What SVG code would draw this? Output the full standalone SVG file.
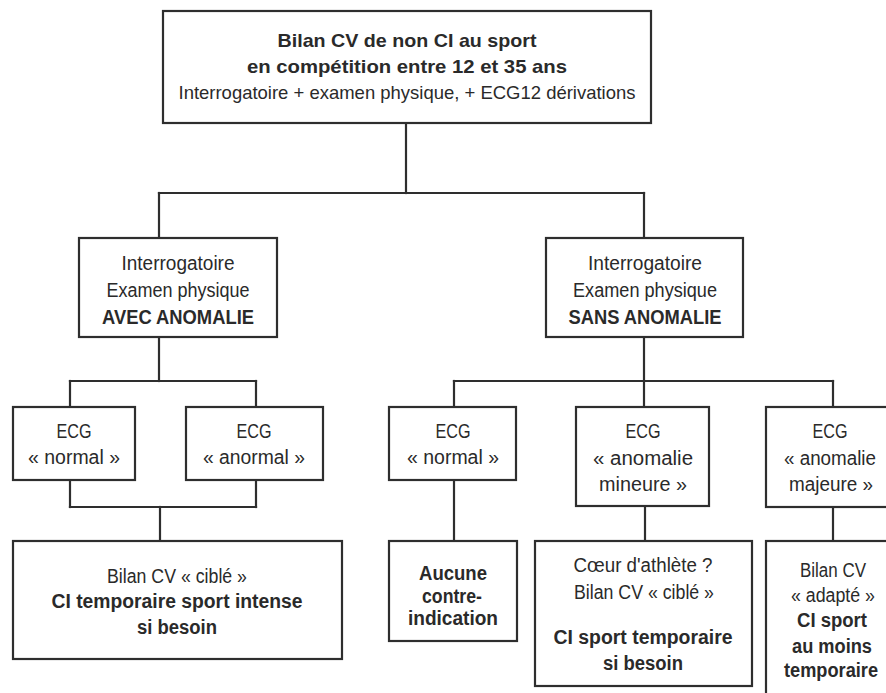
<svg xmlns="http://www.w3.org/2000/svg" width="886" height="693" viewBox="0 0 886 693">
  <style>
    .box { fill: #ffffff; stroke: #2e2e2e; stroke-width: 2.2; }
    .conn line { stroke: #2e2e2e; stroke-width: 2.2; stroke-linecap: square; }
    text { font-family: "Liberation Sans", Arial, sans-serif; font-size: 20px; fill: #2a2a2a; text-anchor: middle; }
    .t { font-size: 19px; }
    .b { font-weight: bold; }
  </style>
  <rect x="0" y="0" width="886" height="693" fill="#ffffff"/>

  <g id="connectors" class="conn">
    <line x1="406" y1="123" x2="406" y2="193"/>
    <line x1="159" y1="193" x2="644" y2="193"/>
    <line x1="159" y1="193" x2="159" y2="238"/>
    <line x1="644" y1="193" x2="644" y2="238"/>
    <line x1="159" y1="337" x2="159" y2="381"/>
    <line x1="70" y1="381" x2="256" y2="381"/>
    <line x1="70" y1="381" x2="70" y2="407"/>
    <line x1="256" y1="381" x2="256" y2="407"/>
    <line x1="70" y1="480" x2="70" y2="507"/>
    <line x1="256" y1="480" x2="256" y2="507"/>
    <line x1="70" y1="507" x2="256" y2="507"/>
    <line x1="160" y1="507" x2="160" y2="541"/>
    <line x1="644" y1="337" x2="644" y2="407"/>
    <line x1="454" y1="381" x2="833" y2="381"/>
    <line x1="454" y1="381" x2="454" y2="407"/>
    <line x1="833" y1="381" x2="833" y2="407"/>
    <line x1="454" y1="480" x2="454" y2="541"/>
    <line x1="645" y1="506" x2="645" y2="541"/>
    <line x1="833" y1="507" x2="833" y2="541"/>
  </g>

  <g id="root">
    <rect class="box" x="163" y="11" width="488" height="112"/>
    <text class="t b" x="407" y="47" textLength="259" lengthAdjust="spacingAndGlyphs">Bilan CV de non CI au sport</text>
    <text class="t b" x="407" y="73" textLength="320" lengthAdjust="spacingAndGlyphs">en compétition entre 12 et 35 ans</text>
    <text class="t" x="407" y="99" textLength="457" lengthAdjust="spacingAndGlyphs">Interrogatoire + examen physique, + ECG12 dérivations</text>
  </g>

  <g id="avec-anomalie">
    <rect class="box" x="79" y="238" width="198" height="99"/>
    <text x="178" y="270" textLength="113" lengthAdjust="spacingAndGlyphs">Interrogatoire</text>
    <text x="178" y="297" textLength="143" lengthAdjust="spacingAndGlyphs">Examen physique</text>
    <text class="b" x="178" y="324" textLength="152" lengthAdjust="spacingAndGlyphs">AVEC ANOMALIE</text>
  </g>

  <g id="sans-anomalie">
    <rect class="box" x="546" y="238" width="197" height="99"/>
    <text x="645" y="270" textLength="114" lengthAdjust="spacingAndGlyphs">Interrogatoire</text>
    <text x="645" y="297" textLength="144" lengthAdjust="spacingAndGlyphs">Examen physique</text>
    <text class="b" x="645" y="324" textLength="153" lengthAdjust="spacingAndGlyphs">SANS ANOMALIE</text>
  </g>

  <g id="ecg-normal-left">
    <rect class="box" x="13" y="407" width="122" height="73"/>
    <text x="74" y="438" textLength="35" lengthAdjust="spacingAndGlyphs">ECG</text>
    <text x="74" y="464" textLength="92" lengthAdjust="spacingAndGlyphs">« normal »</text>
  </g>

  <g id="ecg-anormal">
    <rect class="box" x="186" y="407" width="137" height="73"/>
    <text x="254" y="438" textLength="35" lengthAdjust="spacingAndGlyphs">ECG</text>
    <text x="254" y="464" textLength="102" lengthAdjust="spacingAndGlyphs">« anormal »</text>
  </g>

  <g id="ecg-normal-right">
    <rect class="box" x="389" y="407" width="127" height="73"/>
    <text x="453" y="438" textLength="35" lengthAdjust="spacingAndGlyphs">ECG</text>
    <text x="453" y="464" textLength="92" lengthAdjust="spacingAndGlyphs">« normal »</text>
  </g>

  <g id="ecg-mineure">
    <rect class="box" x="576" y="407" width="133" height="99"/>
    <text x="643" y="438" textLength="35" lengthAdjust="spacingAndGlyphs">ECG</text>
    <text x="643" y="465" textLength="100" lengthAdjust="spacingAndGlyphs">« anomalie</text>
    <text x="643" y="491" textLength="88" lengthAdjust="spacingAndGlyphs">mineure »</text>
  </g>

  <g id="ecg-majeure">
    <rect class="box" x="766" y="407" width="140" height="100"/>
    <text x="830" y="438" textLength="35" lengthAdjust="spacingAndGlyphs">ECG</text>
    <text x="830" y="465" textLength="92" lengthAdjust="spacingAndGlyphs">« anomalie</text>
    <text x="831" y="491" textLength="84" lengthAdjust="spacingAndGlyphs">majeure »</text>
  </g>

  <g id="bilan-cible-left">
    <rect class="box" x="13" y="541" width="329" height="118"/>
    <text x="177" y="583" textLength="140" lengthAdjust="spacingAndGlyphs">Bilan CV « ciblé »</text>
    <text class="b" x="177" y="608" textLength="251" lengthAdjust="spacingAndGlyphs">CI temporaire sport intense</text>
    <text class="b" x="177" y="634" textLength="80" lengthAdjust="spacingAndGlyphs">si besoin</text>
  </g>

  <g id="aucune">
    <rect class="box" x="389" y="541" width="128" height="100"/>
    <text class="b" x="453" y="580" textLength="68" lengthAdjust="spacingAndGlyphs">Aucune</text>
    <text class="b" x="452" y="603" textLength="60" lengthAdjust="spacingAndGlyphs">contre-</text>
    <text class="b" x="453" y="625" textLength="90" lengthAdjust="spacingAndGlyphs">indication</text>
  </g>

  <g id="coeur-athlete">
    <rect class="box" x="535" y="541" width="217" height="145"/>
    <text x="643" y="572" textLength="139" lengthAdjust="spacingAndGlyphs">Cœur d'athlète ?</text>
    <text x="644" y="599" textLength="140" lengthAdjust="spacingAndGlyphs">Bilan CV « ciblé »</text>
    <text class="b" x="643" y="644" textLength="179" lengthAdjust="spacingAndGlyphs">CI sport temporaire</text>
    <text class="b" x="643" y="670" textLength="80" lengthAdjust="spacingAndGlyphs">si besoin</text>
  </g>

  <g id="bilan-adapte">
    <rect class="box" x="766" y="541" width="140" height="170"/>
    <text x="833" y="577" textLength="66" lengthAdjust="spacingAndGlyphs">Bilan CV</text>
    <text x="833" y="602" textLength="84" lengthAdjust="spacingAndGlyphs">« adapté »</text>
    <text class="b" x="832" y="627" textLength="70" lengthAdjust="spacingAndGlyphs">CI sport</text>
    <text class="b" x="832" y="653" textLength="80" lengthAdjust="spacingAndGlyphs">au moins</text>
    <text class="b" x="831" y="677" textLength="94" lengthAdjust="spacingAndGlyphs">temporaire</text>
  </g>
</svg>
